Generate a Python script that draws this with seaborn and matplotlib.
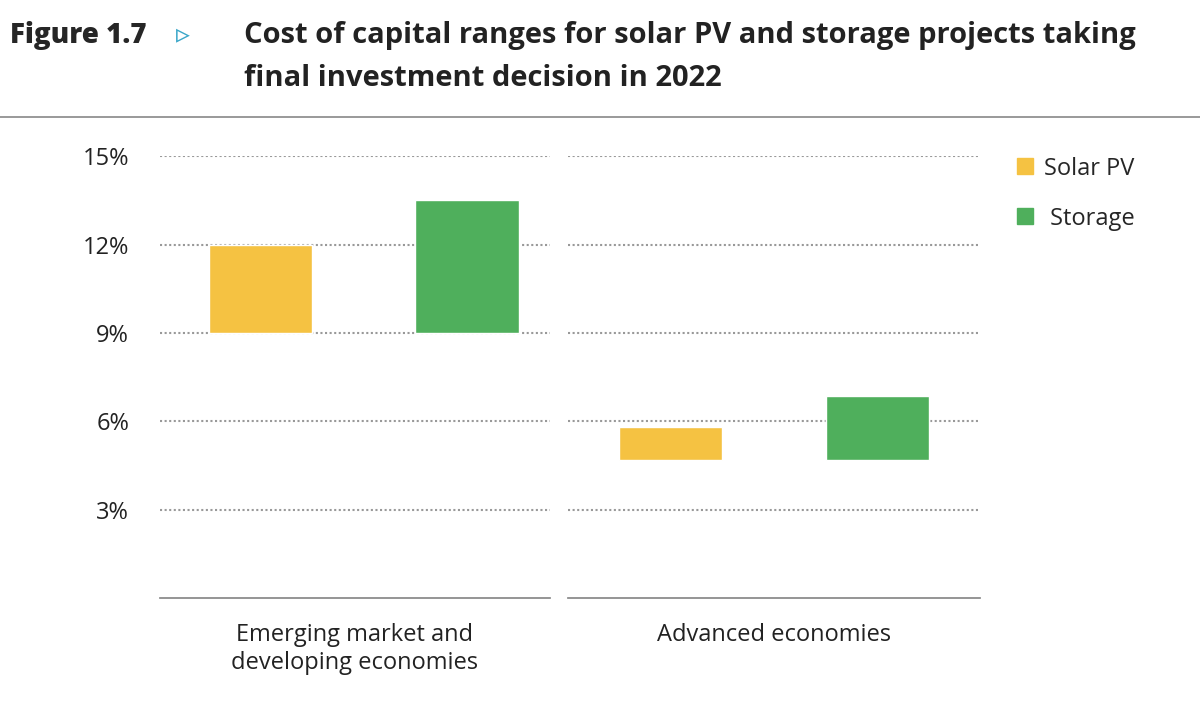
import pandas as pd
import seaborn as sns
import matplotlib.pyplot as plt
from matplotlib.lines import Line2D

# Data (cost of capital ranges, %)
regions = ['Emerging market and\ndeveloping economies', 'Advanced economies']
techs = ['Solar PV', 'Storage']
low = [[9.0, 9.0], [4.7, 4.7]]
high = [[12.0, 13.5], [5.8, 6.85]]
colors = ['#F5C242', '#4FAF5C']
yticks = [3, 6, 9, 12, 15]

sns.set_theme(style='white')
plt.rcParams['font.family'] = ['Open Sans', 'DejaVu Sans']

fig = plt.figure(figsize=(12, 7.13), dpi=100)
axes = [fig.add_axes([0.133, 0.161, 0.325, 0.62]),
        fig.add_axes([0.473, 0.161, 0.344, 0.62])]
xlims = [(-0.49, 1.4), (-0.5, 1.5)]

for i, ax in enumerate(axes):
    df = pd.DataFrame({'tech': techs, 'low': low[i],
                       'span': [h - l for h, l in zip(high[i], low[i])]})
    sns.barplot(data=df, x='tech', y='span', hue='tech', palette=colors,
                bottom=df['low'], width=0.5, ax=ax, legend=False,
                saturation=1, zorder=3)
    ax.set_ylim(0, 15)
    ax.set_xlim(*xlims[i])
    ax.set_yticks(yticks)
    for t in yticks:
        ax.axhline(t, color='#999999', linestyle=(0, (1, 1.2)), lw=1.5, zorder=1)
    ax.set_xticks([])
    ax.set_xlabel(regions[i], fontsize=17, color='#222222', labelpad=18)
    ax.set_ylabel('')
    for s in ['top', 'right', 'left']:
        ax.spines[s].set_visible(False)
    ax.spines['bottom'].set_color('#888888')
    if i == 0:
        ax.set_yticklabels([f'{t}%' for t in yticks], fontsize=17, color='#222222')
        ax.tick_params(axis='y', length=0, pad=22)
    else:
        ax.set_yticklabels([])
        ax.tick_params(axis='y', length=0)

handles = [Line2D([], [], marker='s', ls='', color=c, markersize=12) for c in colors]
fig.legend(handles, ['Solar PV', ' Storage'], loc='upper left',
           bbox_to_anchor=(0.825, 0.81), frameon=False, fontsize=17,
           labelspacing=1.1, handletextpad=0.2, handlelength=1.2)

fig.text(0.008, 0.95, 'Figure 1.7', fontsize=20, fontweight='black', va='center')
fig.text(0.147, 0.95, '\u25B9', fontsize=20, color='#3BA7C9', va='center')
fig.text(0.203, 0.95, 'Cost of capital ranges for solar PV and storage projects taking',
         fontsize=21, fontweight='bold', va='center', color='#222222')
fig.text(0.203, 0.89, 'final investment decision in 2022',
         fontsize=21, fontweight='bold', va='center', color='#222222')
fig.add_artist(Line2D([0, 1], [0.836, 0.836], color='#888888', lw=1.2))

fig.savefig('out.png')
